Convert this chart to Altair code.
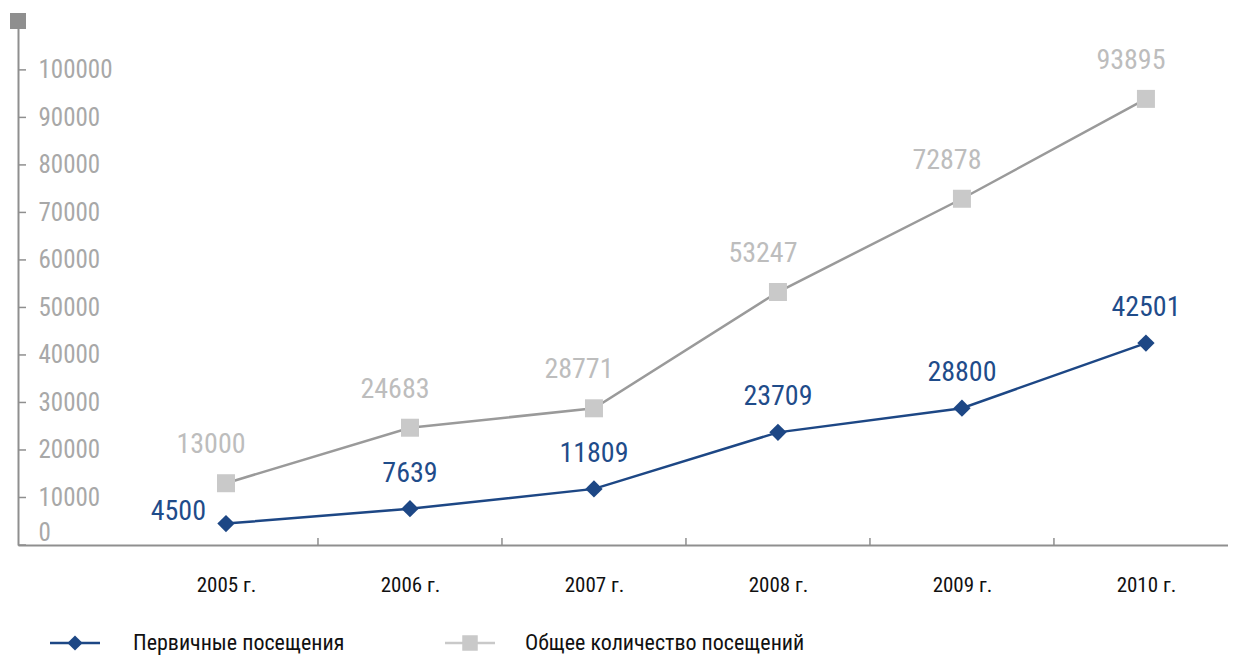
import altair as alt
import pandas as pd

# ---- data ----
years = ["2005 г.", "2006 г.", "2007 г.", "2008 г.", "2009 г.", "2010 г."]
primary = [4500, 7639, 11809, 23709, 28800, 42501]
total = [13000, 24683, 28771, 53247, 72878, 93895]
series_names = ["Первичные посещения", "Общее количество посещений"]
y_ticks = [0, 10000, 20000, 30000, 40000, 50000, 60000, 70000, 80000, 90000, 100000]

FONT = "Roboto Condensed, Liberation Sans Narrow, Roboto, sans-serif"
BLUE = "#1d4785"
BLUE_TXT = "#1f4c8a"
GRAY_LINE = "#9a9a9a"
GRAY_MARK = "#c9c9c9"
GRAY_TXT = "#bdbdbd"
AXIS_GRAY = "#8f8f8f"

W, H = 1210, 525

idx = list(range(len(years)))
df_p = pd.DataFrame({"i": idx, "year": years, "value": primary, "series": series_names[0]})
df_t = pd.DataFrame({"i": idx, "year": years, "value": total, "series": series_names[1]})
bounds = pd.DataFrame({"b": [k + 0.5 for k in idx[:-1]]})
yt = pd.DataFrame({"v": y_ticks})

label_expr = "[" + ",".join("'" + y + "'" for y in years) + "][datum.value]"

xs = alt.Scale(domain=[-1.1304, 5.446], nice=False, zero=False)
ys = alt.Scale(domain=[0, 110500], nice=False, zero=False)

x_axis = alt.Axis(values=idx, labelExpr=label_expr, ticks=False, grid=False,
                  domainColor=AXIS_GRAY, domainWidth=2, labelFont=FONT,
                  labelFontSize=21, labelColor="#111111", labelPadding=29, title=None)
y_axis = alt.Axis(values=y_ticks, format="d", ticks=False, grid=False, domainColor=AXIS_GRAY,
                  domainWidth=2, labelAlign="left", labelPadding=-20, labelFlush=True,
                  labelFont=FONT, labelFontSize=25, labelColor="#a8a8a8", title=None)

X = alt.X("i:Q", scale=xs, axis=x_axis)
Y = alt.Y("value:Q", scale=ys, axis=y_axis)

line_t = alt.Chart(df_t).mark_line(color=GRAY_LINE, strokeWidth=2.5).encode(x=X, y=Y)
line_p = alt.Chart(df_p).mark_line(color=BLUE, strokeWidth=2.5).encode(x=X, y=Y)
pts_t = alt.Chart(df_t).mark_point(shape="square", filled=True, color=GRAY_MARK, size=324, opacity=1).encode(x=X, y=Y)
pts_p = alt.Chart(df_p).mark_point(shape="diamond", filled=True, color=BLUE, size=300, opacity=1).encode(x=X, y=Y)

txt_t = alt.Chart(df_t).mark_text(font=FONT, fontSize=28, color=GRAY_TXT, dy=-38, dx=-15).encode(
    x=X, y=Y, text=alt.Text("value:Q", format="d"))
txt_p = alt.Chart(df_p).transform_filter("datum.i > 0").mark_text(
    font=FONT, fontSize=28, color=BLUE_TXT, dy=-35).encode(x=X, y=Y, text=alt.Text("value:Q", format="d"))
txt_p0 = alt.Chart(df_p).transform_filter("datum.i == 0").mark_text(
    font=FONT, fontSize=28, color=BLUE_TXT, dy=-12, dx=-20, align="right").encode(
    x=X, y=Y, text=alt.Text("value:Q", format="d"))

ytick_rules = alt.Chart(yt).mark_rule(color=AXIS_GRAY, strokeWidth=1.5).encode(
    y=alt.Y("v:Q", scale=ys, axis=y_axis), x=alt.value(0), x2=alt.value(8))
xtick_rules = alt.Chart(bounds).mark_rule(color=AXIS_GRAY, strokeWidth=1.5).encode(
    x=alt.X("b:Q", scale=xs, axis=x_axis), y=alt.value(H), y2=alt.value(H - 7))

top_marker = alt.Chart(pd.DataFrame({"m": [1]})).mark_point(
    shape="square", filled=True, color=AXIS_GRAY, size=256, opacity=1).encode(
    x=alt.value(0), y=alt.value(1))

# manual legend
leg_y = 623
leg_items = []
specs = [
    (series_names[0], BLUE, "diamond", 230, 32, 115),
    (series_names[1], GRAY_MARK, "square", 240, 427, 507),
]
for name, col, shp, sz, x0, xt in specs:
    d = pd.DataFrame({"series": [name]})
    leg_items.append(alt.Chart(d).mark_rule(color=col, strokeWidth=2.5).encode(
        x=alt.value(x0), x2=alt.value(x0 + 50), y=alt.value(leg_y)))
    leg_items.append(alt.Chart(d).mark_point(shape=shp, filled=True, color=col, size=sz, opacity=1).encode(
        x=alt.value(x0 + 25), y=alt.value(leg_y)))
    leg_items.append(alt.Chart(d).mark_text(font=FONT, fontSize=22, color="#111111", align="left",
                                            baseline="middle").encode(
        x=alt.value(xt), y=alt.value(leg_y), text="series:N"))

chart = alt.layer(
    line_t, line_p, pts_t, pts_p, txt_t, txt_p, txt_p0, ytick_rules, xtick_rules, top_marker,
    *leg_items
).properties(
    width=W, height=H,
    autosize=alt.AutoSizeParams(type="none"),
    padding={"left": 10, "top": 12, "right": 0, "bottom": 110},
).configure_view(stroke=None)

chart.save("out.html", embed_options={"renderer": "svg", "actions": False})
